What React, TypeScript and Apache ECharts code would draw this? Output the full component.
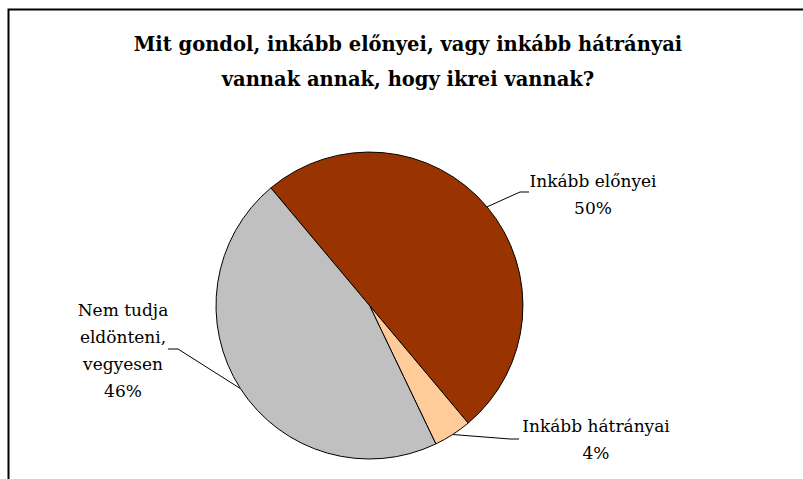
import React, { useEffect, useRef } from "react";
import * as echarts from "echarts";

const titleLines = [
  "Mit gondol, inkább előnyei, vagy inkább hátrányai",
  "vannak annak, hogy ikrei vannak?",
];
const categories = ["Inkább előnyei", "Inkább hátrányai", "Nem tudja eldönteni, vegyesen"];
const categoryLabels = ["Inkább előnyei", "Inkább hátrányai", "Nem tudja\neldönteni,\nvegyesen"];
const values = [50, 4, 46];
const colors = ["#993300", "#FFCC99", "#C0C0C0"];

// label placement (center of label block) and line geometry relative to it
const labelCenters = [
  [593, 194],
  [596, 439],
  [123, 350],
];
const lineOffsets = [
  [[-73, -2], [-64, -2]],
  [[-86, 0], [-77, 0]],
  [[55, -1], [45, -1]],
];

const FONT = "DejaVu Serif";

export default function App() {
  const ref = useRef<HTMLDivElement>(null);
  useEffect(() => {
    document.body.style.margin = "0";
    const chart = echarts.init(ref.current!, null, { renderer: "svg" });
    chart.setOption({
      animation: false,
      backgroundColor: "#ffffff",
      textStyle: { fontFamily: FONT },
      title: {
        text: titleLines.join("\n"),
        left: 408,
        top: 27,
        padding: 0,
        textAlign: "center",
        textStyle: {
          fontFamily: FONT,
          fontWeight: "bold",
          fontSize: 19.5,
          lineHeight: 35,
          color: "#000000",
        },
      },
      graphic: [
        {
          type: "rect",
          shape: { x: 8.5, y: 9.5, width: 900, height: 600 },
          style: { fill: "none", stroke: "#000000", lineWidth: 2 },
          silent: true,
          z: -1,
        },
      ],
      series: [
        {
          type: "pie",
          center: [369.5, 305.5],
          radius: 153.5,
          startAngle: 130,
          clockwise: true,
          avoidLabelOverlap: false,
          itemStyle: { borderColor: "#000000", borderWidth: 1 },
          emphasis: { disabled: true },
          label: {
            show: true,
            position: "outside",
            fontFamily: FONT,
            fontSize: 17,
            lineHeight: 27,
            color: "#000000",
            align: "center",
            formatter: (p: any) => `${categoryLabels[p.dataIndex]}\n${p.value}%`,
          },
          labelLine: {
            show: true,
            length: 20,
            length2: 10,
            lineStyle: { color: "#000000", width: 1 },
          },
          labelLayout: (p: any) => {
            const i = p.dataIndex;
            const [lx, ly] = labelCenters[i];
            const anchor = p.labelLinePoints ? p.labelLinePoints[0] : [lx, ly];
            const pts = [
              anchor,
              [lx + lineOffsets[i][0][0], ly + lineOffsets[i][0][1]],
              [lx + lineOffsets[i][1][0], ly + lineOffsets[i][1][1]],
            ];
            return {
              x: lx,
              y: ly,
              align: "center",
              verticalAlign: "middle",
              labelLinePoints: pts,
            };
          },
          data: categories.map((name, i) => ({
            name,
            value: values[i],
            itemStyle: { color: colors[i] },
          })),
        },
      ],
    });
    return () => chart.dispose();
  }, []);
  return (
    <div
      ref={ref}
      style={{ position: "absolute", left: 0, top: 0, width: 803, height: 479 }}
    />
  );
}
